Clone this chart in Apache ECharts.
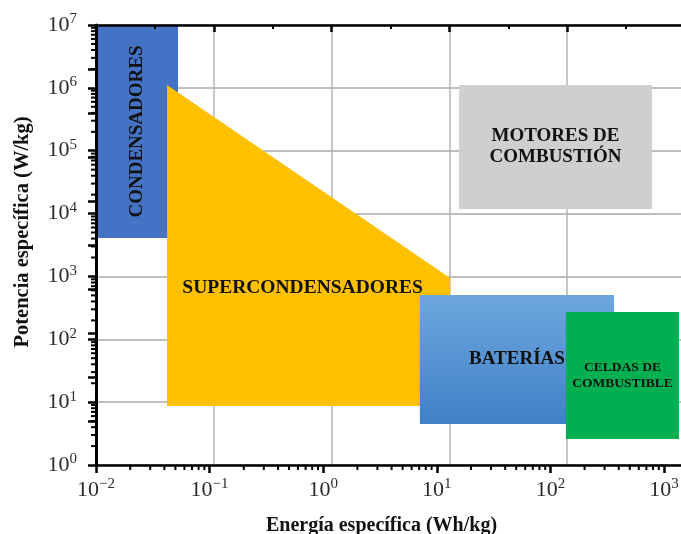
<!DOCTYPE html>
<html>
<head>
<meta charset="utf-8">
<script src="https://cdn.jsdelivr.net/npm/echarts@6/dist/echarts.min.js"></script>
<style>
  html, body { margin: 0; padding: 0; background: #ffffff; }
  #chart { width: 681px; height: 534px; }
</style>
</head>
<body>
<div id="chart"></div>
<script>
// Ragone diagram: specific power against specific energy for energy technologies.

const technologies = ['CONDENSADORES', 'SUPERCONDENSADORES', 'BATERÍAS', 'CELDAS DE\nCOMBUSTIBLE', 'MOTORES DE\nCOMBUSTIÓN'];
// specific energy range of each technology (Wh/kg)
const energyLow  = [0.01,   0.0422, 7.1,  137,  15.7];
const energyHigh = [0.0527, 13.1,   363,  1355, 784];
// specific power range (W/kg); the upper bound may drop towards high energy
const powerLow            = [4080, 8.7,    4.49, 2.59, 11800];
const powerHigh           = [1e7,  1.11e6, 507,  272,  1.11e6];
const powerHighAtMaxEnergy = [1e7, 944,    507,  272,  1.11e6];

// decade tick values and their exponents
const energyTicks = [0.01, 0.1, 1, 10, 100, 1000];
const energyExponents = [-2, -1, 0, 1, 2, 3];
const powerTicks = [1, 10, 100, 1e3, 1e4, 1e5, 1e6, 1e7];
const powerExponents = [0, 1, 2, 3, 4, 5, 6, 7];

const SERIF = '"Liberation Serif", "DejaVu Serif", serif';
const regionFill = [
  '#4472C4',
  '#FFC000',
  { type: 'linear', x: 0, y: 0, x2: 0, y2: 1, colorStops: [
    { offset: 0, color: '#6EA7DE' }, { offset: 1, color: '#3F80C6' }] },
  '#00B050',
  '#D0CECE'
];
const regionFont = [
  { size: 19, lh: 22, rotate: true },
  { size: 19.5, lh: 22 },
  { size: 19, lh: 22 },
  { size: 13.5, lh: 16 },
  { size: 19, lh: 21 }
];

function decadeLabel(exps, ticks) {
  return function (v) {
    let best = 0;
    for (let i = 0; i < ticks.length; i++) {
      if (Math.abs(Math.log10(ticks[i]) - Math.log10(v)) < Math.abs(Math.log10(ticks[best]) - Math.log10(v))) best = i;
    }
    const e = exps[best];
    return '{b|10}{s|' + (e < 0 ? '\u2212' + (-e) : e) + '}';
  };
}
const labelRich = {
  b: { fontFamily: SERIF, fontSize: 22, color: '#2b2b2b', lineHeight: 26 },
  s: { fontFamily: SERIF, fontSize: 15, color: '#2b2b2b', lineHeight: 15, verticalAlign: 'top' }
};

// minor log ticks (2..9 within each decade)
function minorValues(fromExp, toExp) {
  const out = [];
  for (let d = fromExp; d < toExp; d++) {
    for (let k = 2; k <= 9; k++) out.push(k * Math.pow(10, d));
  }
  return out;
}

const regionData = technologies.map((t, i) => [energyLow[i], energyHigh[i], powerLow[i], powerHigh[i], powerHighAtMaxEnergy[i]]);

function renderRegion(params, api) {
  const i = params.dataIndex;
  const eL = api.value(0), eH = api.value(1), pL = api.value(2), pH = api.value(3), pHR = api.value(4);
  const bl = api.coord([eL, pL]);
  const tl = api.coord([eL, pH]);
  const tr = api.coord([eH, pHR]);
  const br = api.coord([eH, pL]);
  const f = regionFont[i];
  let tx = (bl[0] + br[0]) / 2;
  let ty = (tl[1] + bl[1]) / 2;
  if (pHR !== pH) { // sloped top: label sits just under the lower corner
    tx -= 6;
    ty = tr[1] + 10;
  }
  return {
    type: 'group',
    children: [
      { type: 'polygon', shape: { points: [bl, tl, tr, br] }, style: { fill: regionFill[i] } },
      {
        type: 'text',
        x: tx, y: ty,
        rotation: f.rotate ? Math.PI / 2 : 0,
        style: {
          text: technologies[i],
          fill: '#111111',
          fontFamily: SERIF, fontWeight: 'bold', fontSize: f.size, lineHeight: f.lh,
          align: 'center', verticalAlign: 'middle'
        }
      }
    ]
  };
}

function minorTickSeries(values, horizontal) {
  return {
    type: 'custom', xAxisIndex: 0, yAxisIndex: 0, silent: true, clip: false, z: 12,
    data: values.map(v => horizontal ? [v, 1] : [0.01, v]),
    renderItem: function (params, api) {
      const p = api.coord([api.value(0), api.value(1)]);
      const shape = horizontal
        ? { x1: p[0], y1: p[1], x2: p[0], y2: p[1] + 5 }
        : { x1: p[0] - 5, y1: p[1], x2: p[0], y2: p[1] };
      return { type: 'line', shape: shape, style: { stroke: '#000', lineWidth: 2 } };
    }
  };
}

const chart = echarts.init(document.getElementById('chart'), null, { renderer: 'canvas' });
chart.setOption({
  animation: false,
  backgroundColor: '#ffffff',
  grid: { left: 96, top: 25, width: 589, height: 440, containLabel: false, outerBoundsMode: 'none' },
  xAxis: [
    {
      type: 'log', logBase: 10, position: 'bottom', min: 0.01, max: 1531, z: 10,
      name: 'Energía específica (Wh/kg)', nameLocation: 'middle', nameGap: 51,
      nameTextStyle: { fontFamily: SERIF, fontWeight: 'bold', fontSize: 20, color: '#111', padding: [0, 18, 0, 0] },
      axisLine: { show: true, lineStyle: { color: '#000', width: 2.5 } },
      axisTick: { show: true, length: 8, lineStyle: { color: '#000', width: 2.5 } },
      minorTick: { show: false },
      splitLine: { show: false },
      axisLabel: { margin: 12, showMaxLabel: false, formatter: decadeLabel(energyExponents, energyTicks), rich: labelRich }
    },
    {
      type: 'value', position: 'top', min: 0, max: 5, interval: 1, z: 10,
      axisLine: { show: true, lineStyle: { color: '#000', width: 2.5 } },
      axisTick: { show: true, inside: true, length: 7, lineStyle: { color: '#000', width: 2.5 } },
      minorTick: { show: true, splitNumber: 2, length: 4, lineStyle: { color: '#000', width: 2 } },
      axisLabel: { show: false },
      splitLine: { show: false }
    },
    {
      type: 'value', position: 'top', min: 0, max: 5, interval: 1, z: 0,
      axisLine: { show: false }, axisTick: { show: false }, axisLabel: { show: false },
      splitLine: { show: true, lineStyle: { color: '#b4b4b4', width: 1.5 } }
    }
  ],
  yAxis: [
    {
      type: 'log', logBase: 10, position: 'left', min: 1, max: 1e7, z: 10,
      name: 'Potencia específica (W/kg)', nameLocation: 'middle', nameGap: 63, nameRotate: 90,
      nameTextStyle: { fontFamily: SERIF, fontWeight: 'bold', fontSize: 20.5, color: '#111', padding: [0, 0, 0, 26] },
      axisLine: { show: true, lineStyle: { color: '#000', width: 3 } },
      axisTick: { show: true, length: 8, lineStyle: { color: '#000', width: 2.5 } },
      minorTick: { show: false },
      splitLine: { show: false },
      axisLabel: { margin: 19, formatter: decadeLabel(powerExponents, powerTicks), rich: labelRich }
    },
    {
      type: 'value', position: 'right', min: 0, max: 10, interval: 1, z: 10,
      axisLine: { show: false },
      axisTick: { show: true, inside: true, length: 8, lineStyle: { color: '#000', width: 2.5 } },
      axisLabel: { show: false },
      splitLine: { show: false }
    },
    {
      type: 'log', logBase: 10, position: 'left', min: 1, max: 1e7, z: 0,
      axisLine: { show: false }, axisTick: { show: false }, axisLabel: { show: false },
      splitLine: { show: true, lineStyle: { color: '#a8a8a8', width: 1.5 } }
    }
  ],
  series: [
    {
      type: 'custom', name: 'tecnologías', xAxisIndex: 0, yAxisIndex: 0, z: 2, clip: false,
      data: regionData,
      encode: { x: [0, 1], y: [2, 3, 4] },
      renderItem: renderRegion
    },
    minorTickSeries(minorValues(-2, 3), true),
    minorTickSeries(minorValues(0, 7), false)
  ]
});
</script>
</body>
</html>
